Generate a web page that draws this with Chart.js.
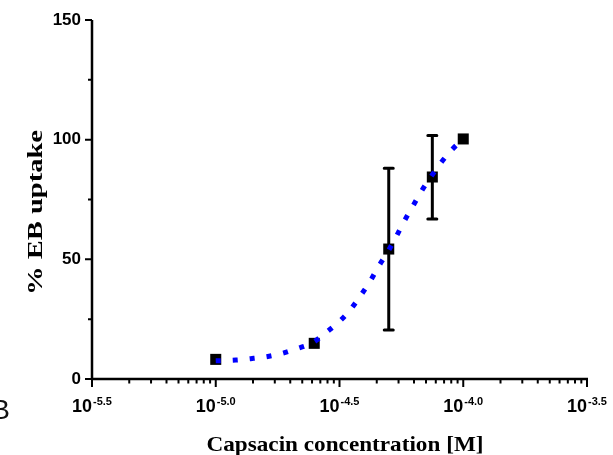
<!DOCTYPE html>
<html>
<head>
<meta charset="utf-8">
<script src="https://cdn.jsdelivr.net/npm/chart.js@4.4.0/dist/chart.umd.min.js"></script>
<style>
  html, body { margin: 0; padding: 0; background: #fff; }
  #wrap { width: 613px; height: 455px; }
</style>
</head>
<body>
<div id="wrap"><canvas id="chart" width="613" height="455"></canvas></div>
<script>
// capsaicin doses (M) and mean EB uptake (%)
const concentrations = [1e-5, 2.5e-5, 5e-5, 7.5e-5, 1e-4];
const uptake = [8.2, 14.9, 54.3, 84.4, 100.3];
const errLow = [null, null, 20.5, 66.9, null];
const errHigh = [null, null, 88.1, 101.7, null];

// fitted curve (log10 of M)
const fitLogConc = [-5.0, -4.919, -4.859, -4.796, -4.731, -4.672, -4.608, -4.558, -4.505, -4.458, -4.418,
  -4.378, -4.343, -4.305, -4.271, -4.237, -4.202, -4.167, -4.128, -4.086, -4.043, -4.0];
const fitUptake = [7.6, 7.9, 8.5, 9.3, 10.7, 12.7, 15.2, 19.1, 23.6, 28.7, 34.4,
  40.5, 46.9, 53.1, 59.5, 66.2, 72.5, 78.8, 84.9, 90.9, 96.1, 100.3];

// axis ticks
const xMajorExp = [-5.5, -5.0, -4.5, -4.0, -3.5];
const xMajorLabels = ['-5.5', '-5.0', '-4.5', '-4.0', '-3.5'];
const xMinorSteps = [2, 3, 4, 5, 6, 7, 8, 9];
const yMajorTicks = [0, 50, 100, 150];
const yMinorTicks = [25, 75, 125];

const SANS = '"Liberation Sans", Arial, sans-serif';
const SERIF = '"Liberation Serif", "Times New Roman", serif';

// draw text stretched to a given width
function stretchedText(ctx, text, width) {
  const w = ctx.measureText(text).width;
  ctx.scale(width / w, 1);
  ctx.fillText(text, 0, 0);
}

const axesPlugin = {
  id: 'axes',
  beforeDatasetsDraw(chart) {
    const ctx = chart.ctx, x = chart.scales.x, y = chart.scales.y;
    ctx.save();
    ctx.strokeStyle = '#000';
    ctx.lineWidth = 3;
    concentrations.forEach((c, i) => {
      if (errLow[i] == null) return;
      const px = x.getPixelForValue(c);
      const top = y.getPixelForValue(errHigh[i]);
      const bot = y.getPixelForValue(errLow[i]);
      ctx.lineCap = 'butt';
      ctx.beginPath();
      ctx.moveTo(px, top); ctx.lineTo(px, bot);
      ctx.stroke();
      ctx.lineCap = 'round';
      ctx.beginPath();
      ctx.moveTo(px - 4.5, top); ctx.lineTo(px + 4.5, top);
      ctx.moveTo(px - 4.5, bot); ctx.lineTo(px + 4.5, bot);
      ctx.stroke();
    });
    ctx.restore();
  },
  afterDraw(chart) {
    const ctx = chart.ctx, x = chart.scales.x, y = chart.scales.y;
    const area = chart.chartArea;
    ctx.save();
    ctx.strokeStyle = '#000';
    ctx.fillStyle = '#000';
    ctx.lineWidth = 2.5;
    ctx.lineCap = 'butt';

    // axis lines
    ctx.beginPath();
    ctx.moveTo(area.left, area.top);
    ctx.lineTo(area.left, area.bottom);
    ctx.moveTo(area.left - 1, area.bottom);
    ctx.lineTo(area.right + 1, area.bottom);
    ctx.stroke();

    // x ticks
    ctx.lineWidth = 2;
    ctx.beginPath();
    xMajorExp.forEach((e, i) => {
      const px = x.getPixelForValue(Math.pow(10, e));
      ctx.moveTo(px, area.bottom); ctx.lineTo(px, area.bottom + 8);
      if (i < xMajorExp.length - 1) {
        xMinorSteps.forEach(k => {
          const mx = x.getPixelForValue(Math.pow(10, e + 0.5 * Math.log10(k)));
          ctx.moveTo(mx, area.bottom); ctx.lineTo(mx, area.bottom + 4.5);
        });
      }
    });
    // y ticks
    yMajorTicks.forEach(v => {
      const py = y.getPixelForValue(v);
      ctx.moveTo(area.left, py); ctx.lineTo(area.left - 7, py);
    });
    yMinorTicks.forEach(v => {
      const py = y.getPixelForValue(v);
      ctx.moveTo(area.left, py); ctx.lineTo(area.left - 4, py);
    });
    ctx.stroke();

    // y tick labels
    ctx.font = 'bold 17px ' + SANS;
    ctx.textAlign = 'right';
    ctx.textBaseline = 'middle';
    yMajorTicks.forEach(v => {
      ctx.fillText(String(v), area.left - 11, y.getPixelForValue(v));
    });

    // x tick labels: 10 with superscript exponent
    ctx.textAlign = 'left';
    ctx.textBaseline = 'alphabetic';
    xMajorExp.forEach((e, i) => {
      const px = x.getPixelForValue(Math.pow(10, e));
      ctx.font = 'bold 18px ' + SANS;
      const w1 = ctx.measureText('10').width;
      ctx.font = 'bold 11px ' + SANS;
      const w2 = ctx.measureText(xMajorLabels[i]).width;
      const start = px - (w1 + w2 + 1) / 2;
      ctx.font = 'bold 18px ' + SANS;
      ctx.fillText('10', start, area.bottom + 32.5);
      ctx.font = 'bold 11px ' + SANS;
      ctx.fillText(xMajorLabels[i], start + w1 + 1, area.bottom + 25.5);
    });

    // axis titles
    ctx.textAlign = 'center';
    ctx.font = 'bold 21px ' + SERIF;
    ctx.save();
    ctx.translate(345, 451);
    stretchedText(ctx, 'Capsacin concentration [M]', 277);
    ctx.restore();

    ctx.save();
    ctx.translate(41.5, 212.5);
    ctx.rotate(-Math.PI / 2);
    ctx.font = 'bold 20px ' + SERIF;
    stretchedText(ctx, '% EB uptake', 165);
    ctx.restore();

    // panel letter, cut at the left edge
    ctx.fillStyle = '#111';
    ctx.font = '28px ' + SANS;
    ctx.textAlign = 'right';
    ctx.fillText('B', 10, 419);
    ctx.restore();
  }
};

new Chart(document.getElementById('chart'), {
  data: {
    datasets: [
      {
        type: 'line',
        data: fitLogConc.map((e, i) => ({ x: Math.pow(10, e), y: fitUptake[i] })),
        borderColor: '#0000ff',
        borderWidth: 5,
        borderDash: [5, 12],
        borderCapStyle: 'butt',
        cubicInterpolationMode: 'monotone',
        pointRadius: 0,
        fill: false,
        order: 0
      },
      {
        type: 'scatter',
        data: concentrations.map((c, i) => ({ x: c, y: uptake[i] })),
        pointStyle: 'rect',
        pointRadius: 7.8,
        backgroundColor: '#000',
        borderWidth: 0,
        order: 1
      }
    ]
  },
  options: {
    responsive: false,
    animation: false,
    devicePixelRatio: 1,
    layout: { padding: { top: 20, right: 26, left: 0, bottom: 0 } },
    plugins: { legend: { display: false }, tooltip: { enabled: false } },
    scales: {
      x: {
        type: 'logarithmic',
        bounds: 'data',
        min: Math.pow(10, -5.5),
        max: Math.pow(10, -3.5),
        ticks: { display: false },
        grid: { display: false },
        border: { display: false },
        afterFit(s) { s.height = 76; }
      },
      y: {
        type: 'linear',
        min: 0,
        max: 150,
        ticks: { display: false },
        grid: { display: false },
        border: { display: false },
        afterFit(s) { s.width = 92; }
      }
    }
  },
  plugins: [axesPlugin]
});
</script>
</body>
</html>
